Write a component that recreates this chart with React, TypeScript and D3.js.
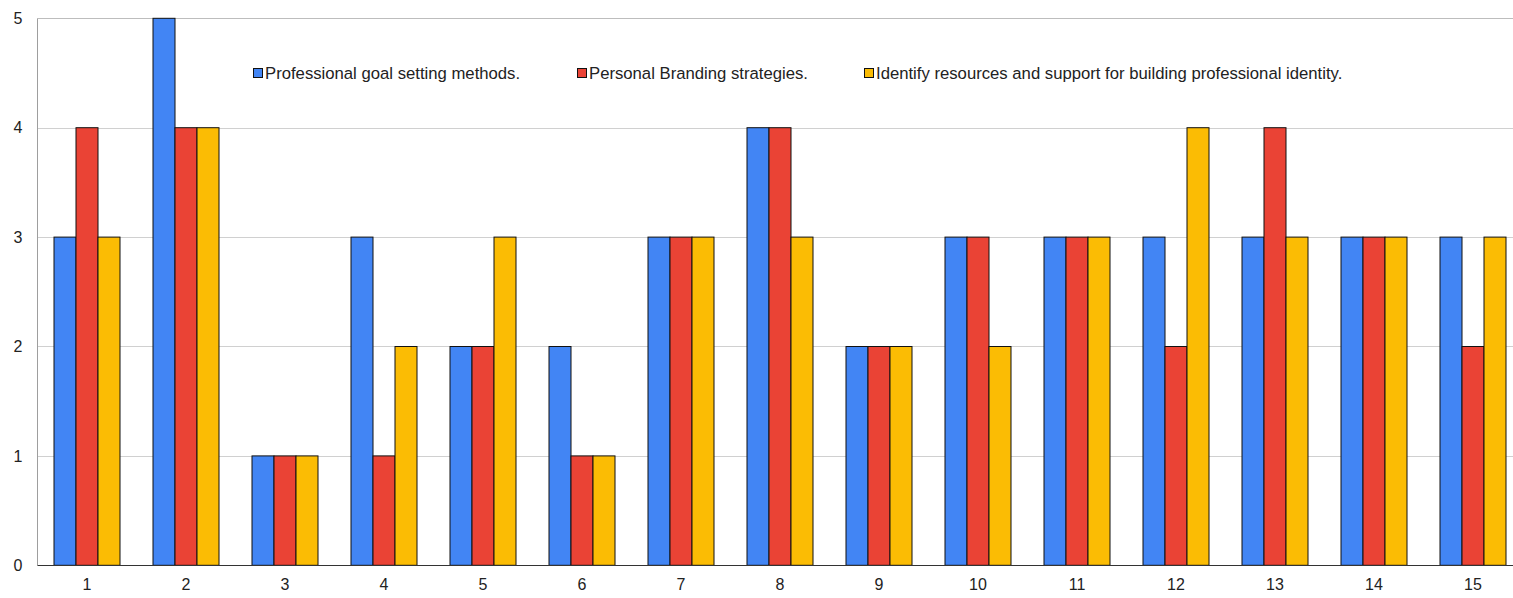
import React from "react";
import * as d3 from "d3";

const categories = ["1","2","3","4","5","6","7","8","9","10","11","12","13","14","15"];
const seriesNames = [
  "Professional goal setting methods.",
  "Personal Branding strategies.",
  "Identify resources and support for building professional identity.",
];
const goalSetting = [3,5,1,3,2,2,3,4,2,3,3,3,3,3,3];
const branding = [4,4,1,1,2,1,3,4,2,3,3,2,4,3,2];
const resources = [3,4,1,2,3,1,3,3,2,2,3,4,3,3,3];
const yTicks = [0,1,2,3,4,5];
const colors = ["#4285F4", "#EA4335", "#FBBC04"];
const legendX = [253, 577, 864];

export default function App() {
  const W = 1513, H = 598;
  const series = [goalSetting, branding, resources];
  const x = d3.scaleBand<string>().domain(categories).range([37.5, 1522.5]).paddingInner(1/3).paddingOuter(1/6);
  const xs = d3.scaleBand<number>().domain([0,1,2]).range([0, x.bandwidth()]);
  const y = d3.scaleLinear().domain([0,5]).range([565.3, 18.3]);
  const font = "Arial, 'Liberation Sans', sans-serif";
  return (
    <svg width={W} height={H} style={{position:"absolute", left:0, top:0, background:"#fff"}} fontFamily={font}>
      {yTicks.map(t => (
        <g key={t}>
          {t > 0 && <line x1={38} x2={W} y1={Math.round(y(t))+0.5} y2={Math.round(y(t))+0.5} stroke={t===5?"#bdbdbd":"#d0d0d0"} strokeWidth={1}/>}
          <text x={22.5} y={y(t)} dy="0.36em" textAnchor="end" fontSize={16} fill="#222">{t}</text>
        </g>
      ))}
      <line x1={37.5} x2={37.5} y1={y(5)} y2={y(0)} stroke="#9e9e9e" strokeWidth={1}/>
      {categories.map((c, i) => (
        <g key={c}>
          {series.map((s, j) => (
            <rect key={j} x={(x(c) as number) + (xs(j) as number)} y={y(s[i])} width={xs.bandwidth()} height={y(0)-y(s[i])}
              fill={colors[j]} stroke="#111" strokeWidth={1}/>
          ))}
          <text x={(x(c) as number) + x.bandwidth()/2} y={589.5} textAnchor="middle" fontSize={16} fill="#222">{c}</text>
        </g>
      ))}
      <line x1={37.5} x2={W} y1={565.5} y2={565.5} stroke="#333" strokeWidth={1}/>
      {seriesNames.map((n, j) => (
        <g key={n}>
          <rect x={legendX[j]+0.5} y={68.5} width={9} height={9} fill={colors[j]} stroke="#111" strokeWidth={1}/>
          <text x={legendX[j]+12} y={78.5} fontSize={16.7} fill="#222">{n}</text>
        </g>
      ))}
    </svg>
  );
}
